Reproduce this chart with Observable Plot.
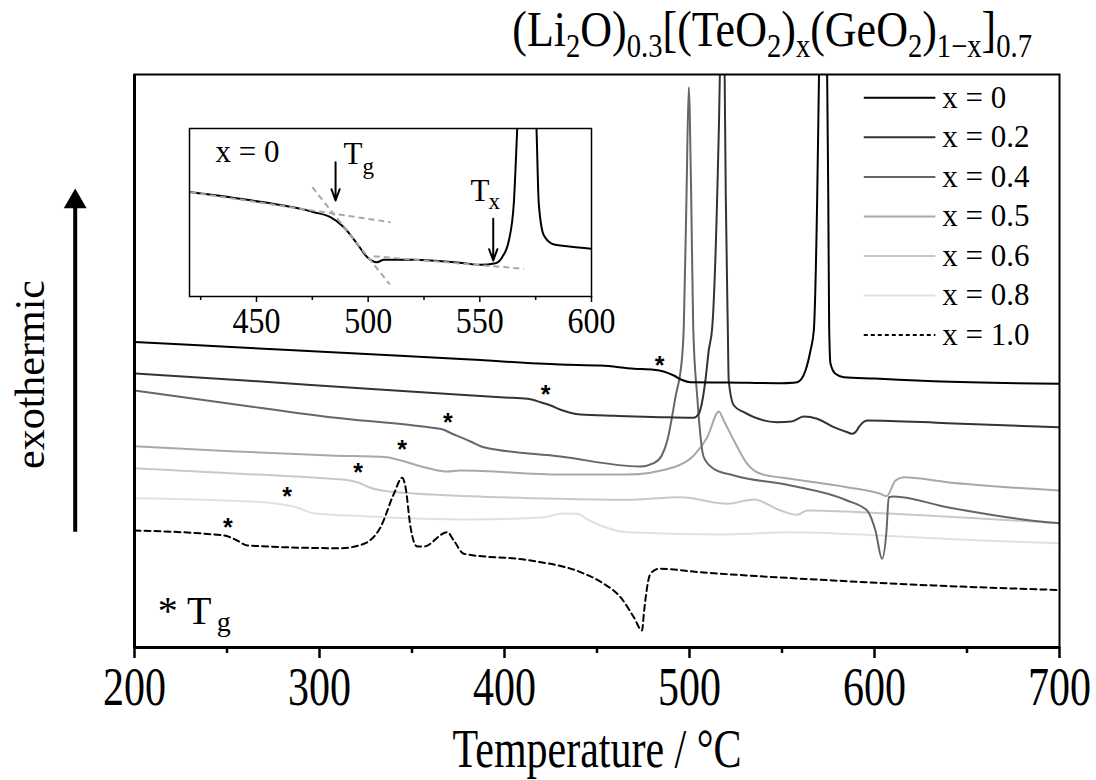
<!DOCTYPE html>
<html><head><meta charset="utf-8">
<script src="https://cdn.jsdelivr.net/npm/d3@7"></script>
<script src="https://cdn.jsdelivr.net/npm/@observablehq/plot@0.6"></script>
<style>
html,body{margin:0;padding:0;background:#fff;}
#wrap{position:relative;width:1096px;height:780px;overflow:hidden;font-family:"Liberation Serif","Times New Roman",serif;}
#title{position:absolute;right:64px;top:6px;font-size:44px;white-space:nowrap;line-height:1.15;color:#000;transform:scaleY(1.15);transform-origin:50% 60%}
#title sub{font-size:0.65em;vertical-align:-0.32em;line-height:0}
#main{position:absolute;left:0;top:0}
#inset{position:absolute;left:140px;top:100px}
</style></head><body>
<div id="wrap"><div id="main"></div><div id="inset"></div><div id="title">(Li<sub>2</sub>O)<sub>0.3</sub>[(TeO<sub>2</sub>)<sub>x</sub>(GeO<sub>2</sub>)<sub>1−x</sub>]<sub>0.7</sub></div></div>
<script>
// ---------- data (temperature °C, DSC signal in arbitrary units) ----------
const seriesNames = ["x = 0", "x = 0.2", "x = 0.4", "x = 0.5", "x = 0.6", "x = 0.8", "x = 1.0"];

const temp_x00 = [200, 260, 320, 381.6, 430, 452, 470, 480.7, 486, 491.5, 496, 500.5, 520, 549.2, 556, 558.2, 560.5, 562.7, 565.4, 567.2, 569, 570, 572.3, 574.4, 575, 575.5, 576.2, 578.9, 583.4, 600, 632, 700];
const dsc_x00  = [305.5, 299.7, 293.9, 288, 283, 282, 278.8, 277.7, 276, 272, 267.5, 265.3, 265, 264.3, 264.8, 265.3, 268.5, 277, 297, 317, 447, 573, 847, 573, 454, 320, 284, 273.7, 270.3, 269, 266.3, 263.7];

const temp_x02 = [200, 260, 320, 376.2, 400, 412.3, 419.5, 425, 430.3, 436, 441.1, 460, 484.3, 502.3, 505, 508.6, 510.4, 512.3, 515, 516.4, 517.7, 519, 519.6, 520.7, 521.2, 524, 529.4, 547.4, 555, 561.8, 569, 578, 585, 588, 590, 591.5, 596, 639.3, 700];
const dsc_x02  = [274, 267, 259.5, 252.7, 250, 248.7, 245.3, 242, 237.7, 234.5, 233, 231.7, 230.3, 229.7, 233.7, 267, 297, 320.3, 453.7, 573, 797, 573, 453.7, 320.3, 267, 242, 235.3, 225.3, 226, 231, 228.7, 220.3, 215.5, 213.7, 216, 220.3, 227, 224.3, 220.3];

const temp_x04 = [200, 251.9, 305.9, 351, 360, 367.2, 372, 376.2, 381.6, 388.8, 430.3, 473.5, 480.7, 485, 488, 492.4, 496, 496.9, 498.4, 499.6, 500.9, 502, 504.2, 507.7, 513.1, 524, 554.6, 585.2, 596, 600.5, 604.1, 606.5, 607.7, 610.4, 639.3, 693.3, 700];
const dsc_x04  = [257, 243.7, 230.3, 222, 220, 217.7, 213.5, 210.3, 206, 200.3, 191, 181, 184.3, 192, 207, 250.3, 290.3, 320.3, 453.7, 560.3, 453.7, 320.3, 250.3, 190.3, 178.7, 172, 162, 147, 137, 117, 88.7, 117, 150.3, 151, 140.3, 125.3, 124.3];

const temp_x05 = [200, 251.9, 305.9, 336.6, 342, 347.4, 354, 360, 369, 376.2, 430.3, 466.3, 491.5, 502.3, 509.6, 515.9, 518.5, 524, 531.2, 538.4, 554.6, 585.2, 603.2, 606.5, 611.4, 615.8, 639.3, 700];
const dsc_x05  = [201.3, 196.3, 192, 190.3, 188, 185.3, 181.5, 178.7, 176, 177, 173, 173, 180.3, 192, 210.3, 236, 227, 207, 183.7, 173.7, 168.7, 160.3, 153.7, 151.3, 167, 170.3, 165.3, 157];

const temp_x06 = [200, 251.9, 305.9, 315, 320.4, 327, 336.6, 381.6, 430.3, 466.3, 495.1, 520.4, 534.8, 549.2, 558.2, 563.6, 603.2, 700];
const dsc_x06  = [179.3, 174.3, 168.7, 167.5, 165.3, 160, 156.3, 151.3, 148.7, 147.7, 150.3, 143.7, 148, 137, 132.7, 137, 134.3, 124.3];

const temp_x08 = [200, 269.9, 280, 287, 296.9, 323.9, 381.6, 421.2, 432, 439.3, 445, 451.9, 466.3, 520.4, 554.6, 603.2, 657.3, 700];
const dsc_x08  = [149.3, 145.3, 143, 140.5, 134.3, 131.3, 128, 130.3, 134, 133.7, 128, 122, 115.3, 113, 115.3, 112, 107, 104.3];

const temp_x10 = [200, 248.3, 252, 255.5, 260.9, 311.4, 324, 333, 340.2, 344.7, 346.5, 349.2, 352.8, 356.4, 369, 372.6, 378, 414.1, 441.1, 453.7, 462.7, 469.9, 474.4, 475.3, 478.9, 483.4, 505.9, 578, 632.1, 700];
const dsc_x10  = [117, 112, 110, 107, 102, 99.3, 103.7, 120.3, 153.7, 169.7, 160.3, 120.3, 101, 101, 115.3, 107, 93.7, 87, 75.3, 63.7, 50.3, 30.3, 17, 33.7, 73.7, 78.7, 75.3, 67, 62, 57.5];

// Tg markers (*) per composition
const tgTemp = [483.8, 422.2, 369.4, 344.7, 320.9, 282.5, 250.4];
const tgDsc  = [287.7, 258.7, 230.3, 203.7, 180.3, 157, 125.3];

// main axis ticks
const majorTicks = [200, 300, 400, 500, 600, 700];
const minorTicks = [250, 350, 450, 550, 650];

// inset (x = 0, zoomed)
const insetTemp = [420, 445.8, 475.7, 483.1, 489.1, 495.1, 499.6, 504, 507, 520.4, 542.8, 550.3, 557, 560, 563, 565.2, 566.7, 571, 575.4, 576.4, 578.7, 583.2, 590, 600];
const insetDsc  = [104.5, 96.7, 84.3, 79.3, 69.3, 52.7, 39.3, 34.3, 36.7, 36.7, 33.3, 31.7, 33.3, 39.3, 56, 92.7, 166, 420, 166, 92.7, 61, 52, 50, 47.7];
const tangentT1 = [420.4, 475, 502.5];
const tangentD1 = [104.3, 109.3, 40.3];
const tangentT2 = [510, 509.7, 569.7];
const tangentD2 = [74.3, 12, 27.7];
const insetMajorTicks = [450, 500, 550, 600];
const insetMinorTicks = [425, 475, 525, 575];
const tgArrowT = 485.4, tgArrowTop = 134.3, tgArrowTip = 96;
const txArrowT = 556, txArrowTop = 77.7, txArrowTip = 36;

// ---------- styles ----------
const seriesColors = ["#000000", "#333333", "#666666", "#a8a8a8", "#c8c8c8", "#e0e0e0", "#000000"];
const seriesDash = [null, null, null, null, null, null, "6,4"];
const FONT = "Liberation Serif";

const temps = [temp_x00, temp_x02, temp_x04, temp_x05, temp_x06, temp_x08, temp_x10];
const dscs = [dsc_x00, dsc_x02, dsc_x04, dsc_x05, dsc_x06, dsc_x08, dsc_x10];
const series = seriesNames.map((name, i) => temps[i].map((t, j) => ({T: t, v: dscs[i][j], name})));

const drawOrder = [5, 4, 3, 2, 1, 0, 6];
const lineMarks = drawOrder.map(i => Plot.line(series[i], {
  x: "T", y: "v", stroke: seriesColors[i], strokeWidth: 2,
  strokeDasharray: seriesDash[i] || undefined, curve: "monotone-x", clip: true
}));

const tgData = tgTemp.map((t, i) => ({T: t, v: tgDsc[i]}));

// legend layout
const legX1 = 594.2, legX2 = 632.9, legTextX = 636.6, legTop = 549.7, legStep = 39.55;
const legendRows = seriesNames.map((name, i) => ({name, v: legTop - i * legStep, i}));
const legendMarks = legendRows.map(r => Plot.link([r], {
  x1: () => legX1, x2: () => legX2, y1: "v", y2: "v",
  stroke: seriesColors[r.i], strokeWidth: 2, strokeDasharray: r.i === 6 ? "4,3" : undefined
}));

const AXIS_TITLE = "Temperature / °C";

const mainPlot = Plot.plot({
  width: 1096, height: 780,
  marginLeft: 134, marginRight: 37, marginTop: 74, marginBottom: 133,
  style: {background: "transparent", fontFamily: FONT, color: "#000", overflow: "visible"},
  x: {domain: [200, 700], label: null},
  y: {domain: [0, 573], axis: null, label: null},
  marks: [
    ...lineMarks,
    Plot.text(tgData, {x: "T", y: "v", text: () => "*", fontFamily: "Liberation Sans", fontWeight: "bold", fontSize: 25, dy: 6}),
    ...legendMarks,
    Plot.text(legendRows, {x: () => legTextX, y: "v", text: "name", textAnchor: "start", fontSize: 31, fontFamily: FONT}),
    Plot.frame({stroke: "#000", strokeWidth: 2}),
    Plot.ruleX([200], {stroke: "#000", strokeWidth: 3}),
    Plot.ruleY([0], {stroke: "#000", strokeWidth: 3}),
    Plot.axisX(majorTicks, {tickSize: 11, tickPadding: 8, fontSize: 42, fontFamily: FONT, strokeWidth: 2.5, label: null, tickFormat: d => String(d)}),
    Plot.axisX(minorTicks, {tickSize: 6, strokeWidth: 2.5, label: null, tickFormat: () => ""}),
    Plot.text([AXIS_TITLE], {frameAnchor: "bottom", textAnchor: "middle", lineAnchor: "middle", dy: 102, fontSize: 42, fontFamily: FONT}),
    Plot.text(["exothermic"], {frameAnchor: "left", textAnchor: "middle", rotate: -90, dx: -104, dy: 13.5, fontSize: 42, fontFamily: FONT}),
    Plot.ruleX([{T: 200, y1: 115.3, y2: 442}], {x: "T", y1: "y1", y2: "y2", dx: -59.3, strokeWidth: 4, stroke: "#000"}),
    Plot.dot([{T: 200, v: 445.8}], {x: "T", y: "v", dx: -59.3, symbol: "triangle", r: 8.5, fill: "#000", stroke: "none"}),
    Plot.text([{T: 212.5, v: 23.7}], {x: "T", y: "v", text: () => "* T", textAnchor: "start", lineAnchor: "bottom", fontSize: 40, fontFamily: FONT}),
    Plot.text([{T: 244.5, v: 17}], {x: "T", y: "v", text: () => "g", textAnchor: "start", lineAnchor: "bottom", fontSize: 28, fontFamily: FONT})
  ]
});
document.getElementById("main").appendChild(mainPlot);

const insetData = insetTemp.map((t, i) => ({T: t, v: insetDsc[i]}));
const tangents = tangentT1.map((t, i) => ({x1: t, y1: tangentD1[i], x2: tangentT2[i], y2: tangentD2[i]}));

const insetPlot = Plot.plot({
  width: 480, height: 250,
  marginLeft: 49, marginRight: 29, marginTop: 28, marginBottom: 54,
  style: {background: "transparent", fontFamily: FONT, color: "#000", overflow: "visible"},
  x: {domain: [420, 600], label: null},
  y: {domain: [0, 168], axis: null, label: null},
  marks: [
    Plot.line(insetData, {x: "T", y: "v", stroke: "#000", strokeWidth: 2, curve: "monotone-x", clip: true}),
    Plot.link(tangents, {x1: "x1", y1: "y1", x2: "x2", y2: "y2", stroke: "#a8a8a8", strokeWidth: 2, strokeDasharray: "6,4"}),
    Plot.arrow([{x: tgArrowT, a: tgArrowTop, b: tgArrowTip}, {x: txArrowT, a: txArrowTop, b: txArrowTip}],
      {x1: "x", x2: "x", y1: "a", y2: "b", stroke: "#000", strokeWidth: 2, headLength: 9, headAngle: 40}),
    Plot.text([{T: 431.6, v: 134.3}], {x: "T", y: "v", text: () => "x = 0", textAnchor: "start", lineAnchor: "bottom", fontSize: 31, fontFamily: FONT}),
    Plot.text([{T: 489, v: 132.7}], {x: "T", y: "v", text: () => "T", textAnchor: "start", lineAnchor: "bottom", fontSize: 31, fontFamily: FONT}),
    Plot.text([{T: 497.5, v: 122.7}], {x: "T", y: "v", text: () => "g", textAnchor: "start", lineAnchor: "bottom", fontSize: 23, fontFamily: FONT}),
    Plot.text([{T: 545.8, v: 96}], {x: "T", y: "v", text: () => "T", textAnchor: "start", lineAnchor: "bottom", fontSize: 31, fontFamily: FONT}),
    Plot.text([{T: 553.9, v: 87.7}], {x: "T", y: "v", text: () => "x", textAnchor: "start", lineAnchor: "bottom", fontSize: 23, fontFamily: FONT}),
    Plot.frame({stroke: "#000", strokeWidth: 1.5}),
    Plot.axisX(insetMajorTicks, {tickSize: 6, tickPadding: 4, fontSize: 32, fontFamily: FONT, strokeWidth: 1.5, label: null, tickFormat: d => String(d)}),
    Plot.axisX(insetMinorTicks, {tickSize: 4, strokeWidth: 1.5, label: null, tickFormat: () => ""})
  ]
});
document.getElementById("inset").appendChild(insetPlot);

// the source figure's lettering is slightly taller than wide: stretch selected labels vertically about their anchor
function stretchY(svg, labels, s) {
  d3.select(svg).selectAll("text").each(function() {
    if (!labels.includes(this.textContent)) return;
    const t = this.getAttribute("transform") || "";
    const x = +this.getAttribute("x") || 0;
    const y = +this.getAttribute("y") || 0;
    this.setAttribute("transform", `${t} translate(${x},${y}) scale(1,${s}) translate(${-x},${-y})`);
  });
}
stretchY(mainPlot, majorTicks.map(String).concat([AXIS_TITLE]), 1.3);
stretchY(insetPlot, insetMajorTicks.map(String), 1.15);
</script>
</body></html>
